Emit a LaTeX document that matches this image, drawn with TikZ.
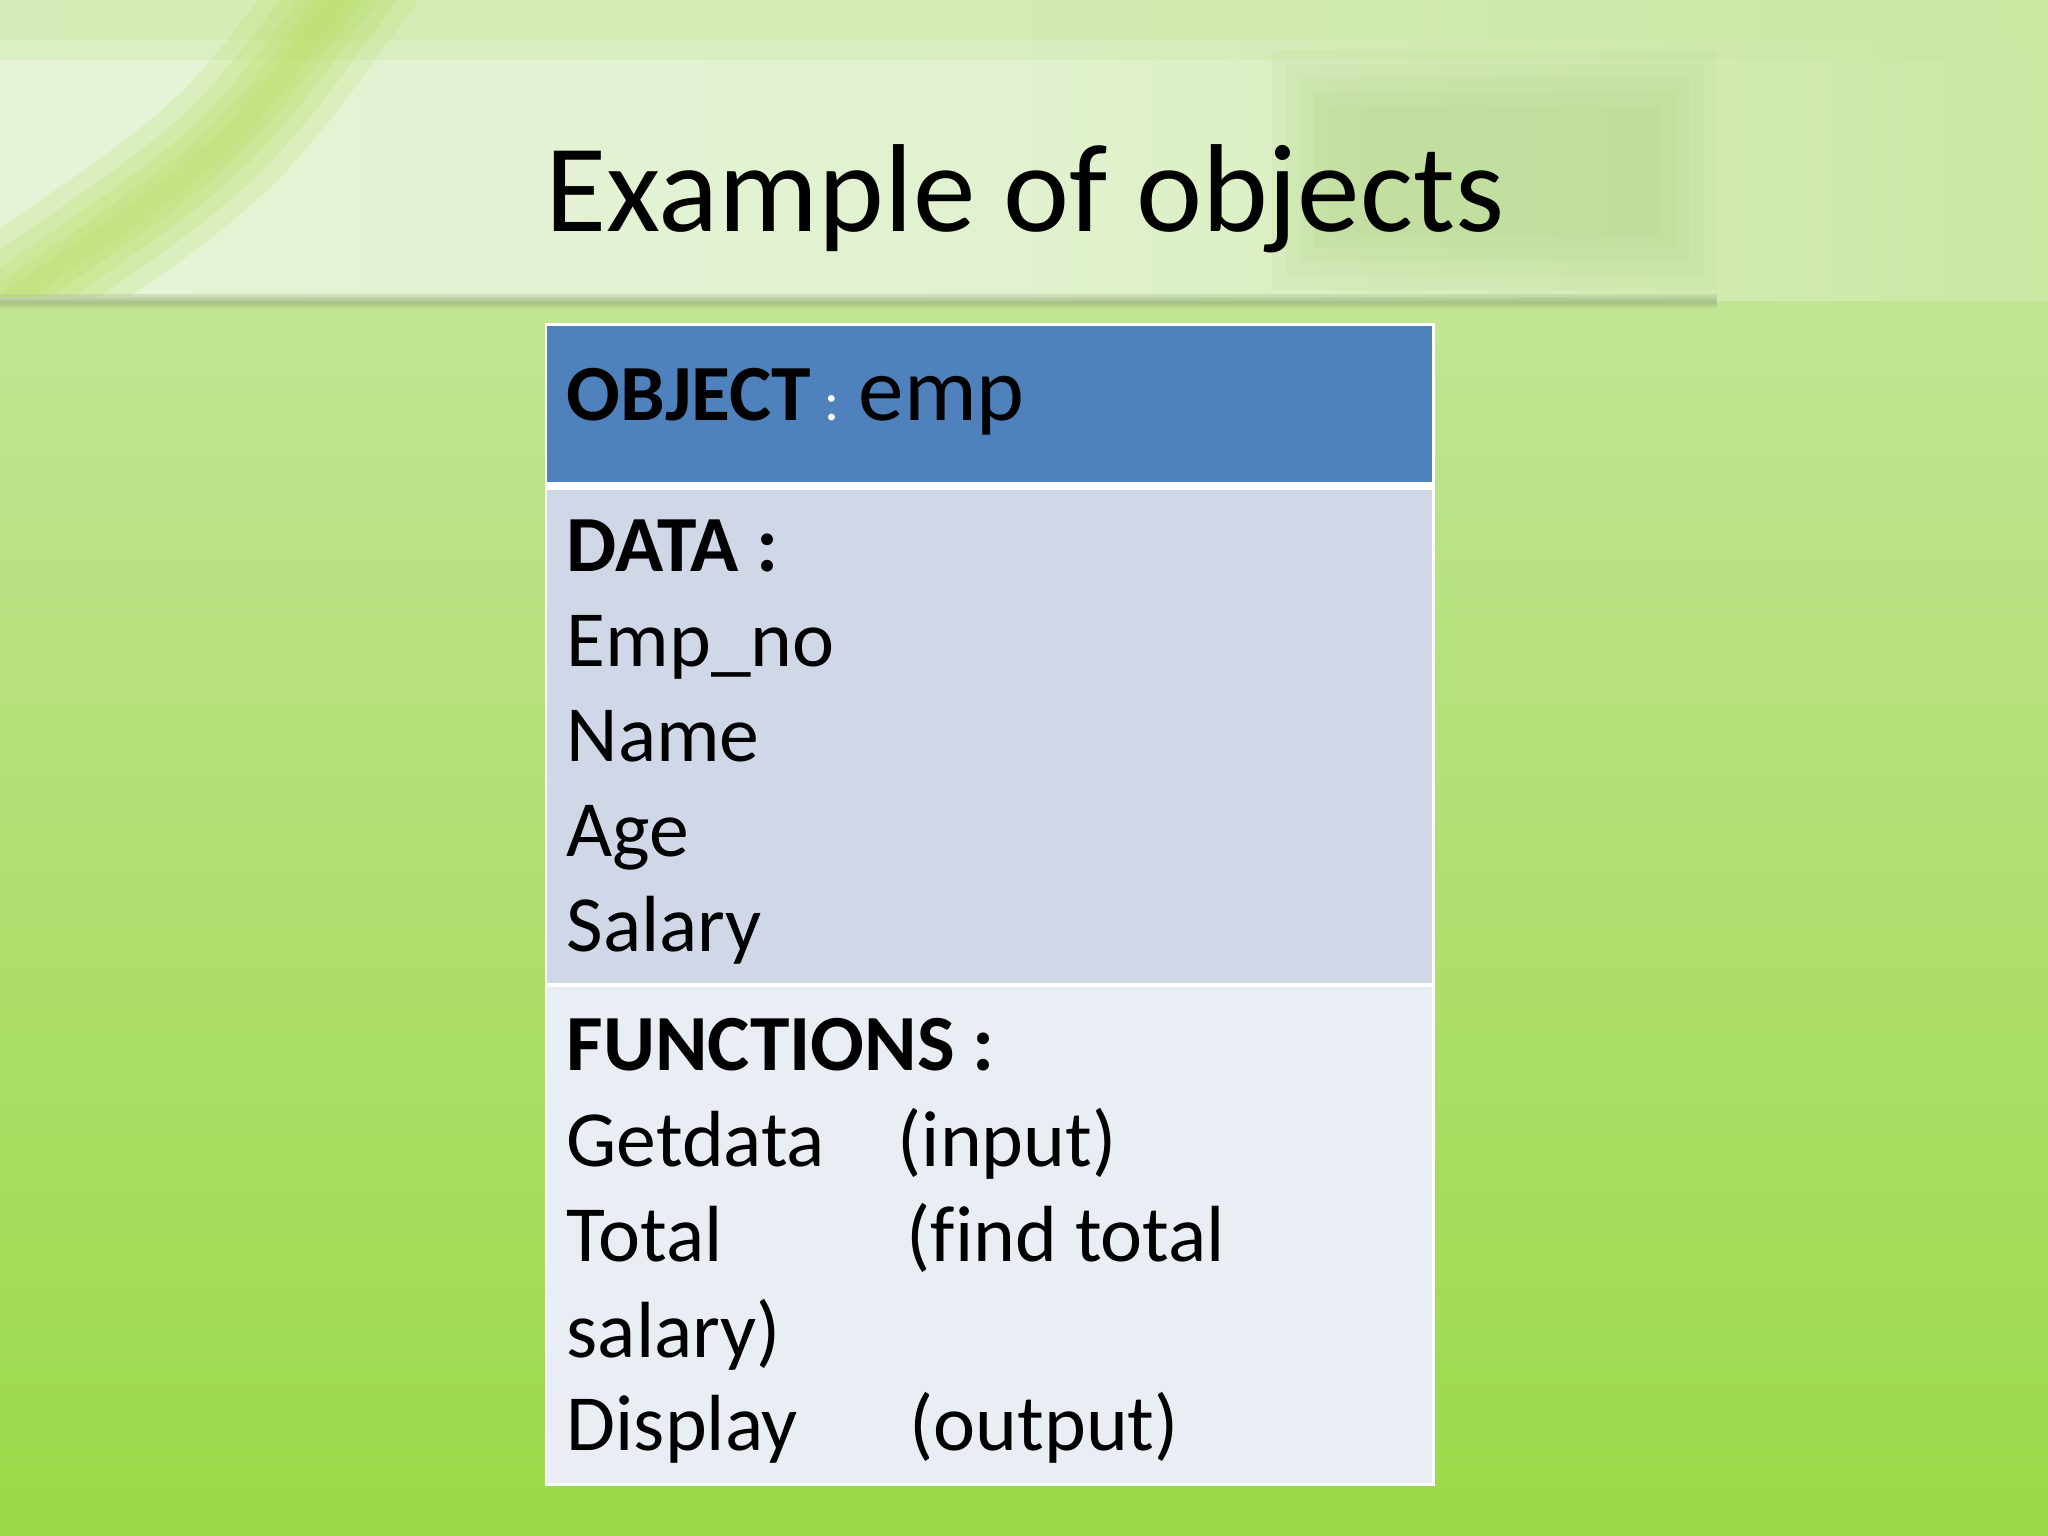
\documentclass[tikz,border=0pt]{standalone}
\usepackage{fontspec}
\setmainfont{Carlito}
\usetikzlibrary{positioning}

\definecolor{hdrblue}{HTML}{4F81BD}
\definecolor{datafill}{HTML}{D0D8E8}
\definecolor{funcfill}{HTML}{E9EDF4}
\definecolor{bgtop}{HTML}{C2E594}
\definecolor{bgmid}{HTML}{ACDC68}
\definecolor{bgbot}{HTML}{9CD948}
\definecolor{bandleft}{HTML}{E6F3D7}
\definecolor{bandright}{HTML}{C9E8A2}
\definecolor{streak}{HTML}{B6DE5C}
\definecolor{patch}{HTML}{AFD486}
\definecolor{bandline}{HTML}{9DB883}

\tikzset{
	txt/.style={anchor=base west, inner sep=0pt, font=\fontsize{22.65}{27}\selectfont},
	btxt/.style={txt, font=\fontsize{22.65}{27}\selectfont\bfseries},
}

\begin{document}
\begin{tikzpicture}[x=0.01cm, y=-0.01cm]
		\useasboundingbox (0,0) rectangle (2048,1536);
		% background
		\shade [top color=bgtop, middle color=bgmid, bottom color=bgbot] (0,300) rectangle (2048,1536);
		\shade [left color=bandleft, right color=bandright, middle color=bandleft!85!bandright] (0,0) rectangle (2048,300);
		\fill [bandright, opacity=0.6] (0,0) rectangle (2048,40);
		\fill [bandright, opacity=0.35] (0,40) rectangle (2048,60);
		\begin{scope}
			\clip (0,0) rectangle (2048,296);
			\foreach \w in {130,95,65,40,20}
			{
				\draw [streak, opacity=0.2, line width=\w*0.2845pt, line cap=round] (360,-30) .. controls (230,150) .. (10,300);
			}
		\end{scope}
		\foreach \d in {0,14,28,42,56}
		{
			\fill [patch, opacity=0.13] (1272+\d,50+\d) rectangle (1717-\d,290-\d);
		}
		\foreach \w in {14,9,5}
		{
			\draw [bandline, opacity=0.3, line width=\w*0.2845pt] (0,301) -- (1717,301);
		}
		% title
		\node [anchor=base, inner sep=0pt, font=\fontsize{35.6}{42}\selectfont] (title) at (1025,231) {Example of objects};
		% table
		\fill [white] (545,323) rectangle (1435,1486);
		\fill [hdrblue] (547,326) rectangle (1432,482);
		\fill [datafill] (547,490) rectangle (1432,983);
		\fill [funcfill] (547,987) rectangle (1432,1483);
		\node [btxt] (obj) at (566,420) {OBJECT};
		\node [txt, font=\fontsize{16}{20}\selectfont, text=white] (colon) at (824,420) {:};
		\node [txt, font=\fontsize{25.9}{30}\selectfont] (emp) at (858,420) {emp};
		\node [btxt] (data) at (566,571) {DATA :};
		\foreach \t [count=\i] in {Emp\_no,Name,Age,Salary}
		{
			\node [txt] (d\i) at (566,{571+95*\i}) {\t};
		}
		\node [btxt] (fn) at (566,1070) {FUNCTIONS :};
		\node [txt] (f1) at (566,1166) {Getdata};
		\node [txt] (f1r) at (897,1166) {(input)};
		\node [txt] (f2) at (566,1261) {Total};
		\node [txt] (f2r) at (906,1261) {(f\kern0pt ind total};
		\node [txt] (f3) at (566,1357) {salary)};
		\node [txt] (f4) at (566,1450) {Display};
		\node [txt] (f4r) at (909,1450) {(output)};
\end{tikzpicture}
\end{document}
